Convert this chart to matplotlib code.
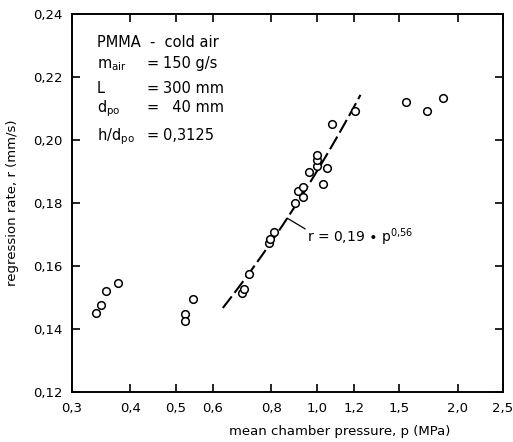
import numpy as np
import matplotlib.pyplot as plt
from matplotlib.ticker import FixedLocator, FixedFormatter, NullLocator

plt.rcParams["font.family"] = ["DejaVu Sans"]
plt.rcParams["mathtext.fontset"] = "dejavusans"

# measured points, p in MPa, r in mm/s
p_data = [0.337, 0.346, 0.355, 0.377,
          0.523, 0.523, 0.543,
          0.691, 0.699, 0.716,
          0.791, 0.796, 0.811,
          0.899, 0.913, 0.936, 0.936, 0.964,
          1.000, 1.000, 1.000, 1.033, 1.054, 1.076, 1.205,
          1.552, 1.723, 1.864]
r_data = [0.1452, 0.1477, 0.1522, 0.1546,
          0.1448, 0.1426, 0.1494,
          0.1515, 0.1526, 0.1575,
          0.1672, 0.1686, 0.1708,
          0.1801, 0.1839, 0.1852, 0.1820, 0.1899,
          0.1917, 0.1937, 0.1952, 0.1859, 0.1910, 0.2051, 0.2092,
          0.2120, 0.2092, 0.2133]

# fit r = 0.19 * p^0.56
fit_a, fit_n = 0.19, 0.56
fit_range = [0.63, 1.24]

x_ticks = [0.3, 0.4, 0.5, 0.6, 0.8, 1.0, 1.2, 1.5, 2.0, 2.5]
x_labels = ["0,3", "0,4", "0,5", "0,6", "0,8", "1,0", "1,2", "1,5", "2,0", "2,5"]
y_ticks = [0.12, 0.14, 0.16, 0.18, 0.20, 0.22, 0.24]
y_labels = ["0,12", "0,14", "0,16", "0,18", "0,20", "0,22", "0,24"]

fig = plt.figure(figsize=(5.13, 4.42), dpi=100)
ax = fig.add_axes([72 / 513, 1 - 392 / 442, 431 / 513, 378 / 442])

p_fit = np.geomspace(fit_range[0], fit_range[1], 50)
ax.plot(p_fit, fit_a * p_fit ** fit_n, color="black", lw=1.5,
        dashes=(7, 2.2), zorder=2)
ax.plot(p_data, r_data, "o", ms=5.5, mfc="white", mec="black", mew=1.1,
        zorder=3)

ax.set_xscale("log")
ax.set_xlim(0.3, 2.5)
ax.set_ylim(0.12, 0.24)
ax.xaxis.set_major_locator(FixedLocator(x_ticks))
ax.xaxis.set_major_formatter(FixedFormatter(x_labels))
ax.xaxis.set_minor_locator(NullLocator())
ax.yaxis.set_major_locator(FixedLocator(y_ticks))
ax.yaxis.set_major_formatter(FixedFormatter(y_labels))
ax.tick_params(direction="in", length=6, width=1.2, top=True, right=True,
               labelsize=9.5, pad=7)
for s in ax.spines.values():
    s.set_linewidth(1.4)

ax.set_ylabel("regression rate, r (mm/s)", fontsize=9.5, labelpad=10)
fig.text(340 / 513, 1 - 432 / 442, "mean chamber pressure, p (MPa)",
         fontsize=9.5, ha="center", va="center")

# leader and fit label
p_lead = 0.865
ax.plot([p_lead, 0.944], [fit_a * p_lead ** fit_n, 0.1718], color="black",
        lw=0.9)
ax.text(0.955, 0.1677, r"r = 0,19 $\bullet$ p$^{0{,}56}$", fontsize=10,
        va="baseline")

# parameter block
tr = ax.transAxes
rows = [
    (0.913, "PMMA  -  cold air", None),
    (0.857, r"m$_{\mathrm{air}}$", "150 g/s"),
    (0.791, "L", "300 mm"),
    (0.741, r"d$_{\mathrm{po}}$", "  40 mm"),
    (0.667, r"h/d$_{\mathrm{po}}$", "0,3125"),
]
for yy, lab, val in rows:
    ax.text(0.058, yy, lab, transform=tr, fontsize=10.5, va="baseline")
    if val is not None:
        ax.text(0.172, yy, "=", transform=tr, fontsize=10.5, va="baseline")
        ax.text(0.212, yy, val, transform=tr, fontsize=10.5, va="baseline")

fig.savefig("out.png", dpi=100)
